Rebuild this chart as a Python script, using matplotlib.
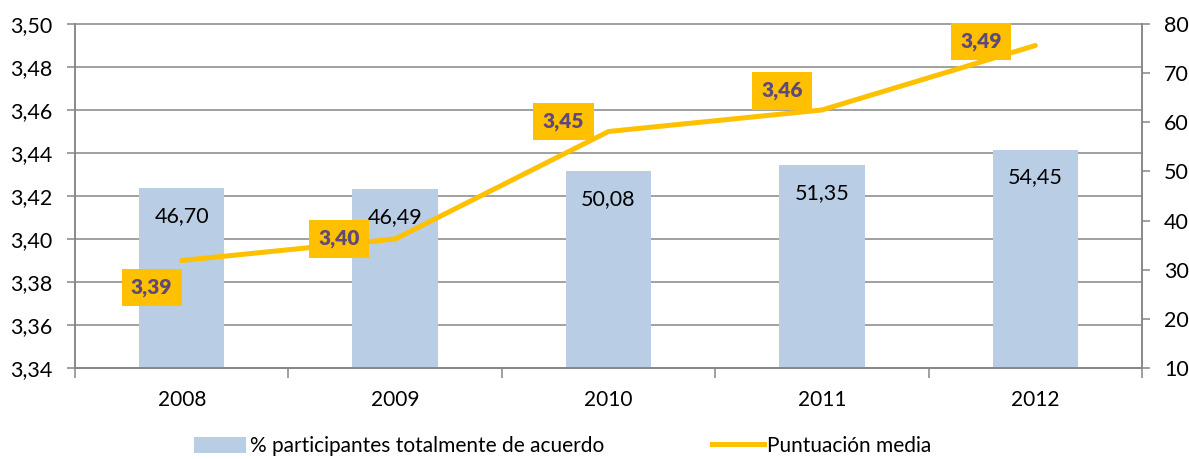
import matplotlib
matplotlib.use("Agg")
import matplotlib.pyplot as plt
import numpy as np

plt.rcParams['font.family'] = ['Lato', 'DejaVu Sans']

years = ["2008", "2009", "2010", "2011", "2012"]
pct_acuerdo = [46.70, 46.49, 50.08, 51.35, 54.45]
puntuacion = [3.39, 3.40, 3.45, 3.46, 3.49]
left_ticks = [3.34, 3.36, 3.38, 3.40, 3.42, 3.44, 3.46, 3.48, 3.50]
right_ticks = [10, 20, 30, 40, 50, 60, 70, 80]

bar_color = "#B9CDE5"
line_color = "#FFC000"
label_color = "#5F497A"
grid_color = "#868686"

fig = plt.figure(figsize=(11.89, 4.59), dpi=100)
axb = fig.add_axes([75/1189, 1-368/459, (1142-75)/1189, (368-24)/459])
axl = axb.twinx()

x = np.arange(len(years))

# bars on right axis
axb.bar(x, pct_acuerdo, width=0.4, color=bar_color, zorder=2)
axb.set_ylim(10, 80)
axb.set_yticks(right_ticks)
axb.yaxis.tick_right()
axb.set_xlim(-0.5, len(years) - 0.5)

# line on left axis
axl.plot(x, puntuacion, color=line_color, lw=3.6, solid_capstyle='round', zorder=3)
axl.set_ylim(3.34, 3.50)
axl.set_yticks(left_ticks)
axl.yaxis.tick_left()
axl.set_yticklabels([f"{t:.2f}".replace('.', ',') for t in left_ticks])

# gridlines of left axis drawn behind bars
for t in left_ticks:
    axb.plot([0, 1], [t, t], transform=axl.get_yaxis_transform(),
             color=grid_color, lw=1.1, zorder=1, clip_on=False)

for a in (axb, axl):
    a.spines['top'].set_visible(False)
    for s in ('left', 'right', 'bottom'):
        a.spines[s].set_color(grid_color)
        a.spines[s].set_linewidth(1.1)
    a.tick_params(axis='y', colors=grid_color, labelcolor='black',
                  labelsize=15.5, length=6, width=1.1, direction='out')
axl.tick_params(axis='y', pad=10)
axb.tick_params(axis='y', pad=10)

# x ticks: boundaries as marks, labels at centers
axb.set_xticks(np.arange(-0.5, len(years), 1.0))
axb.set_xticklabels([])
axb.tick_params(axis='x', which='major', colors=grid_color, length=7, width=1.1)
axb.set_xticks(x, minor=True)
axb.set_xticklabels(years, minor=True)
axb.tick_params(axis='x', which='minor', length=0, labelsize=15, labelcolor='black', pad=16)
axl.tick_params(axis='x', which='both', length=0)

# bar value labels
for xi, v in zip(x, pct_acuerdo):
    axb.annotate(f"{v:.2f}".replace('.', ','), (xi, v), xytext=(0, -28),
                 textcoords='offset pixels', ha='center', va='center',
                 fontsize=15.5, color='black', zorder=4)

# line value labels
offsets = [(-30, -27), (-56, 0), (-45, 10), (-40, 19), (-54, 4)]
for xi, v, off in zip(x, puntuacion, offsets):
    axl.annotate(f"{v:.2f}".replace('.', ','), (xi, v), xytext=off,
                 textcoords='offset pixels', ha='center', va='center',
                 fontsize=15, fontweight='heavy', color=label_color, zorder=5,
                 bbox=dict(boxstyle='square,pad=0.45', fc=line_color, ec='none'))

# legend
from matplotlib.patches import Patch
from matplotlib.lines import Line2D
handles = [Patch(facecolor=bar_color, edgecolor='none'),
           Line2D([0], [0], color=line_color, lw=3.6)]
fig.legend(handles, ["% participantes totalmente de acuerdo", "Puntuación media"],
           loc='center', bbox_to_anchor=(563/1189, 1-446/459), ncol=2,
           frameon=False, fontsize=15, handlelength=2.5, handleheight=0.8,
           handletextpad=0.15, columnspacing=5.2)

fig.savefig("out.png", dpi=100)
